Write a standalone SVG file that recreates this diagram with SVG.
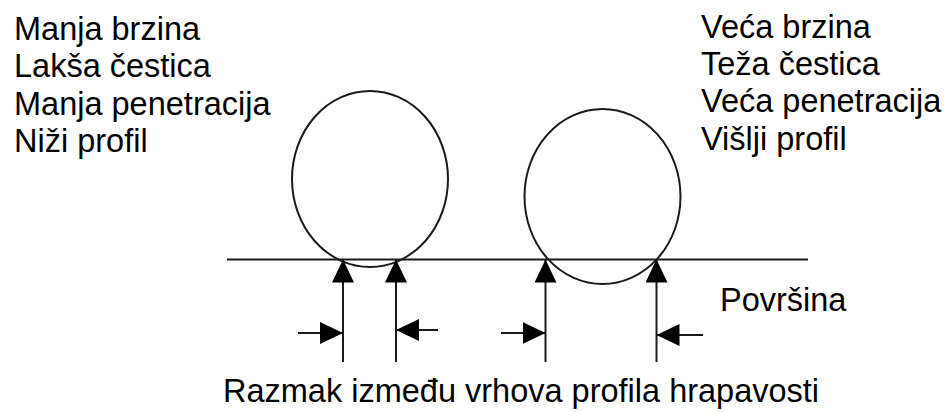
<svg xmlns="http://www.w3.org/2000/svg" width="949" height="412" viewBox="0 0 949 412">
<style>
text{font-family:"Liberation Sans",Arial,sans-serif;font-size:32.5px;fill:#000}
.ln{stroke:#1a1a1a;stroke-width:2;fill:none}
.circ{stroke:#1a1a1a;stroke-width:2;fill:none}
.arr{stroke:#1a1a1a;stroke-width:2;fill:none;marker-end:url(#ah)}
</style>
<defs>
<marker id="ah" markerUnits="userSpaceOnUse" viewBox="0 0 23 22" markerWidth="23" markerHeight="22" refX="23" refY="11" orient="auto">
<path d="M0,0 L23,11 L0,22 z" fill="#000"/>
</marker>
</defs>
<rect width="949" height="412" fill="#fff"/>
<g id="left-labels">
<text x="14" y="40">Manja brzina</text>
<text x="14" y="77">Lakša čestica</text>
<text x="14" y="114.5">Manja penetracija</text>
<text x="14" y="152">Niži profil</text>
</g>
<g id="right-labels">
<text x="701" y="37.5">Veća brzina</text>
<text x="701" y="74.5">Teža čestica</text>
<text x="701" y="112">Veća penetracija</text>
<text x="701" y="149.5">Višlji profil</text>
</g>
<g id="surface">
<line class="ln" x1="227" y1="259.5" x2="808" y2="259.5"/>
<text x="720" y="311">Površina</text>
</g>
<g id="particle-light">
<ellipse class="circ" cx="370" cy="179" rx="78" ry="88"/>
</g>
<g id="particle-heavy">
<ellipse class="circ" cx="602.5" cy="196.5" rx="78" ry="87.5"/>
</g>
<g id="connectors">
<line class="arr" x1="343" y1="362" x2="343" y2="259.5"/>
<line class="arr" x1="396" y1="362" x2="396" y2="259.5"/>
<line class="arr" x1="545.5" y1="362" x2="545.5" y2="259.5"/>
<line class="arr" x1="656.5" y1="362" x2="656.5" y2="259.5"/>
<line class="arr" x1="298" y1="333" x2="343" y2="333"/>
<line class="arr" x1="438" y1="330" x2="396" y2="330"/>
<line class="arr" x1="501" y1="333" x2="545.5" y2="333"/>
<line class="arr" x1="703" y1="335" x2="656.5" y2="335"/>
</g>
<g id="caption">
<text x="223" y="402">Razmak između vrhova profila hrapavosti</text>
</g>
</svg>
